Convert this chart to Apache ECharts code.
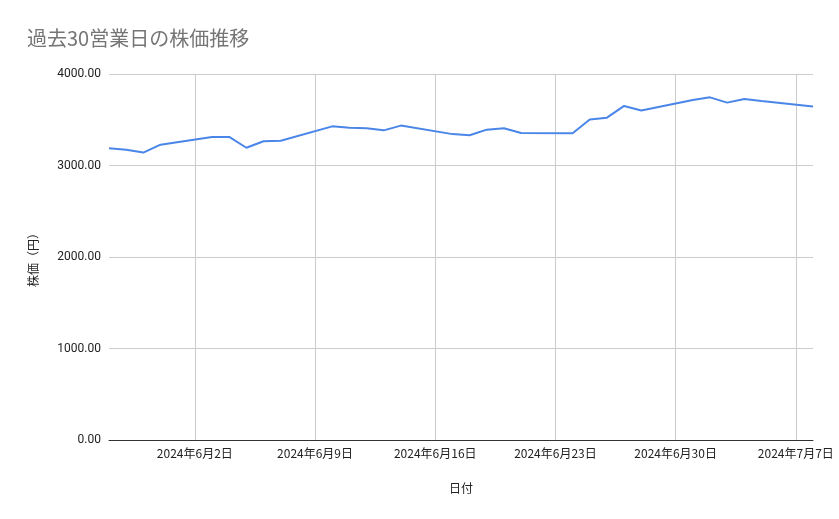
<!DOCTYPE html>
<html>
<head>
<meta charset="utf-8">
<script src="https://cdn.jsdelivr.net/npm/echarts@6/dist/echarts.min.js"></script>
<style>html,body{margin:0;padding:0;background:#fff}#c{width:839px;height:519px}</style>
</head>
<body>
<div id="c"></div>
<script>
const dates = ['2024-05-28','2024-05-29','2024-05-30','2024-05-31',
  '2024-06-03','2024-06-04','2024-06-05','2024-06-06','2024-06-07',
  '2024-06-10','2024-06-11','2024-06-12','2024-06-13','2024-06-14',
  '2024-06-17','2024-06-18','2024-06-19','2024-06-20','2024-06-21',
  '2024-06-24','2024-06-25','2024-06-26','2024-06-27','2024-06-28',
  '2024-07-01','2024-07-02','2024-07-03','2024-07-04','2024-07-05',
  '2024-07-08'];
const prices = [3188,3172,3141,3228,
  3312,3312,3194,3265,3270,
  3428,3412,3407,3384,3436,
  3343,3330,3392,3407,3356,
  3352,3503,3523,3651,3602,
  3715,3745,3687,3726,3705,
  3646];
const xTickDates = ['2024-06-02','2024-06-09','2024-06-16','2024-06-23','2024-06-30','2024-07-07'];
const xTickLabels = ['2024年6月2日','2024年6月9日','2024年6月16日','2024年6月23日','2024年6月30日','2024年7月7日'];
const yTicks = [0,1000,2000,3000,4000];

// day number since first date (UTC-based, no timezone drift)
const dayNum = s => { const p = s.split('-').map(Number); return Math.round(Date.UTC(p[0], p[1]-1, p[2]) / 86400000); };
const d0 = dayNum(dates[0]);
const xOf = s => dayNum(s) - d0;
const tickXs = xTickDates.map(xOf);
const labelMap = {};
tickXs.forEach((t,i)=>{ labelMap[t] = xTickLabels[i]; });

const chart = echarts.init(document.getElementById('c'));
chart.setOption({
  animation: false,
  backgroundColor: '#ffffff',
  textStyle: { fontFamily: 'Roboto, "Noto Sans CJK JP", sans-serif' },
  title: {
    text: '過去30営業日の株価推移',
    left: 22, top: 23,
    textStyle: { fontSize: 20, fontWeight: 'normal', color: '#757575', fontFamily: '"Noto Sans CJK JP", sans-serif' }
  },
  grid: { left: 109, right: 26, top: 74, bottom: 79, containLabel: false },
  xAxis: {
    type: 'value',
    min: 0,
    max: xOf(dates[dates.length-1]),
    name: '日付',
    nameLocation: 'middle',
    nameGap: 42,
    nameTextStyle: { fontSize: 12, color: '#222', fontFamily: '"Noto Sans CJK JP", sans-serif' },
    axisLine: { show: true, lineStyle: { color: '#333', width: 1 } },
    axisTick: { show: false, customValues: tickXs },
    axisLabel: {
      customValues: tickXs,
      formatter: v => labelMap[v] || '',
      fontSize: 12, color: '#222', margin: 7,
      fontFamily: '"Noto Sans CJK JP", sans-serif',
      showMinLabel: true, showMaxLabel: true
    },
    splitLine: { show: true, lineStyle: { color: '#cccccc', width: 1 } }
  },
  yAxis: {
    type: 'value',
    min: yTicks[0], max: yTicks[yTicks.length-1], interval: 1000,
    name: '株価（円）',
    nameLocation: 'middle',
    nameRotate: 90,
    nameGap: 70,
    nameTextStyle: { fontSize: 12, color: '#222', fontFamily: '"Noto Sans CJK JP", sans-serif' },
    axisLine: { show: false },
    axisTick: { show: false },
    axisLabel: { formatter: v => v.toFixed(2), fontSize: 12, color: '#222', margin: 8 },
    splitLine: { show: true, lineStyle: { color: '#cccccc', width: 1 } }
  },
  series: [{
    type: 'line',
    data: dates.map((d,i)=>[xOf(d), prices[i]]),
    showSymbol: false,
    symbol: 'none',
    lineStyle: { color: '#4a86e8', width: 2 },
    itemStyle: { color: '#4a86e8' }
  }]
});
</script>
</body>
</html>
